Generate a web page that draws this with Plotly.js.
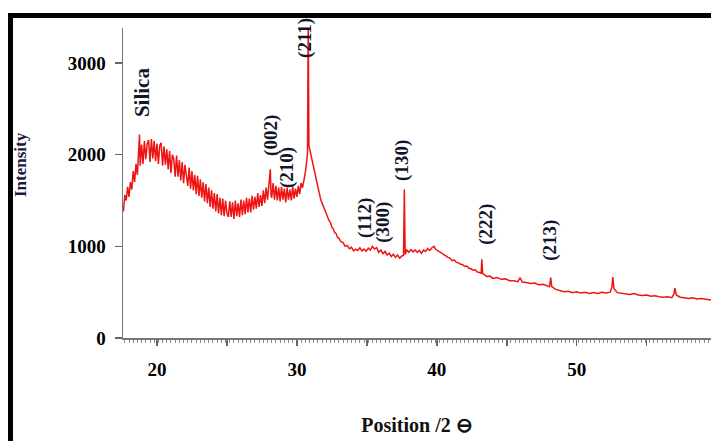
<!DOCTYPE html>
<html>
<head>
<meta charset="utf-8">
<script src="https://cdn.plot.ly/plotly-3.0.1.min.js"></script>
<style>html,body{margin:0;padding:0;background:#fff;}#chart{width:711px;height:441px;}</style>
</head>
<body>
<div id="chart"></div>
<script>
// 2-theta positions (degrees)
var twoTheta = [
 17.6,17.7,17.8,17.9,18.0,18.1,18.2,18.3,18.4,18.5,18.6,18.7,18.75,18.8,18.9,19.0,19.1,19.2,19.3,19.4,
 19.5,19.6,19.7,19.8,19.9,20.0,20.1,20.2,20.3,20.4,20.5,20.6,20.7,20.8,20.9,21.0,21.1,21.2,21.3,21.4,
 21.5,21.6,21.7,21.8,21.9,22.0,22.1,22.2,22.3,22.4,22.5,22.6,22.7,22.8,22.9,23.0,23.1,23.2,23.3,23.4,
 23.5,23.6,23.7,23.8,23.9,24.0,24.1,24.2,24.3,24.4,24.5,24.6,24.7,24.8,24.9,25.0,25.1,25.2,25.3,25.4,
 25.5,25.6,25.7,25.8,25.9,26.0,26.1,26.2,26.3,26.4,26.5,26.6,26.7,26.8,26.9,27.0,27.1,27.2,27.3,27.4,
 27.5,27.6,27.7,27.8,27.9,28.0,28.1,28.15,28.2,28.3,28.4,28.5,28.6,28.7,28.8,28.9,29.0,29.1,29.2,29.3,
 29.4,29.5,29.6,29.7,29.8,29.9,30.0,30.1,30.2,30.3,30.4,30.5,30.6,30.7,30.76,30.81,30.86,30.93,31.0,31.1,
 31.2,31.3,31.4,31.5,31.6,31.7,31.8,31.9,32.0,32.1,32.2,32.3,32.4,32.5,32.6,32.7,32.8,32.9,33.0,33.15,
 33.3,33.45,33.6,33.75,33.9,34.05,34.2,34.35,34.5,34.65,34.8,34.95,35.1,35.25,35.4,35.55,35.7,35.85,36.0,36.15,
 36.3,36.45,36.6,36.75,36.9,37.05,37.2,37.35,37.5,37.62,37.68,37.74,37.85,38.0,38.15,38.3,38.45,38.6,38.75,38.9,
 39.05,39.2,39.35,39.5,39.65,39.8,39.9,40.05,40.2,40.35,40.5,40.65,40.8,40.95,41.1,41.25,41.4,41.55,41.7,41.85,
 42.0,42.15,42.3,42.45,42.6,42.75,42.9,43.05,43.17,43.22,43.28,43.4,43.6,43.8,44.0,44.3,44.6,44.9,45.2,45.5,
 45.8,45.95,46.1,46.4,46.7,47.0,47.3,47.6,47.9,48.06,48.14,48.22,48.5,48.8,49.1,49.4,49.7,50.0,50.3,50.6,
 50.9,51.2,51.5,51.8,52.1,52.4,52.52,52.58,52.66,52.9,53.2,53.5,53.8,54.1,54.4,54.7,55.0,55.3,55.6,55.9,
 56.2,56.5,56.8,56.95,57.02,57.12,57.4,57.7,58.0,58.3,58.6,58.9,59.2,59.6
];
// Intensity (counts)
var intensity = [
 1380,1560,1500,1650,1540,1700,1620,1820,1700,1900,1780,2000,2220,1880,2110,1900,2150,1950,2120,2160,
 1920,2170,1960,2150,1930,2120,1900,2100,2130,1880,2090,1890,2060,1840,2040,1800,2000,1950,1760,1990,
 1760,1940,1720,1920,1690,1890,1740,1660,1860,1630,1820,1610,1780,1570,1770,1550,1730,1530,1700,1490,
 1680,1470,1640,1430,1610,1410,1580,1380,1570,1360,1530,1340,1520,1330,1500,1360,1320,1490,1320,1480,
 1300,1500,1330,1470,1320,1510,1340,1500,1350,1530,1370,1520,1370,1550,1400,1540,1410,1580,1430,1560,
 1440,1610,1470,1640,1510,1660,1840,1560,1530,1690,1510,1660,1500,1640,1490,1650,1510,1630,1480,1640,
 1510,1620,1500,1650,1520,1630,1540,1660,1570,1690,1640,1720,1800,1930,2020,3500,2100,2050,2000,1900,
 1830,1760,1700,1620,1580,1510,1470,1440,1390,1350,1320,1280,1260,1210,1190,1150,1140,1100,1090,1050,
 1040,1000,1010,975,990,950,970,955,985,950,970,945,980,960,1000,970,985,935,960,920,
 945,905,925,890,915,880,905,870,895,900,1620,910,960,935,965,940,960,935,955,925,
 960,945,975,955,985,1000,970,955,935,920,905,895,880,870,845,850,825,820,805,800,
 780,785,760,755,740,745,720,715,705,860,705,690,670,675,650,660,640,645,625,625,
 615,660,610,605,595,600,580,585,565,560,660,560,530,515,505,510,495,505,490,500,
 485,495,485,500,490,500,560,665,540,495,490,480,475,485,470,465,470,455,460,450,
 445,450,440,480,545,470,445,440,430,440,425,430,420,415
];
// Peak labels
var peakText = ["Silica","(002)","(210)","(211)","(112)","(300)","(130)","(222)","(213)"];
var peakX    = [18.93, 28.14, 29.29, 30.57, 34.86, 36.14, 37.5, 43.5, 48.07];
var peakY    = [2683, 2214, 1865, 3272, 1309, 1265, 1941, 1243, 1069];
var xTickVals = [20,25,30,35,40,45,50,55];
var xTickText = ["20","","30","","40","","50",""];
var yTickVals = [0,1000,2000,3000];

var serif = "Liberation Serif, Times New Roman, serif";
var annotations = peakText.map(function(t,i){
  return {x: peakX[i], y: peakY[i], xref:'x', yref:'y', text: '<b>'+t+'</b>', showarrow:false,
    xanchor:'center', yanchor:'middle',
    textangle:-90, font:{family:serif, size: (t==="Silica"?21:19), color:'#15152a'}};
});
annotations.push({text:'<b>Intensity</b>', xref:'paper', yref:'paper', x:(20-123)/588, y:(338-165)/310,
  xanchor:'center', yanchor:'middle',
  showarrow:false, textangle:-90, font:{family:serif, size:17, color:'#1a1a40'}});

var trace = {x: twoTheta, y: intensity, type:'scatter', mode:'lines',
  line:{color:'#ee1414', width:1.5}, cliponaxis:false, hoverinfo:'skip'};

var layout = {
  width:711, height:441,
  margin:{l:123, r:0, t:28, b:103},
  paper_bgcolor:'#fff', plot_bgcolor:'#fff',
  showlegend:false,
  xaxis:{range:[17.57,59.6], tickvals:xTickVals, ticktext:xTickText, ticks:'outside', ticklen:6,
    tickcolor:'#666', tickwidth:1.5, showline:true, linecolor:'#777', linewidth:1.5, showgrid:false,
    zeroline:false, ticklabelstandoff:8,
    minor:{dtick:0.3, ticks:'outside', ticklen:3, tickcolor:'#888', tickwidth:1, showgrid:false},
    tickfont:{family:serif, size:19, color:'#000', weight:'bold'},
    title:{text:'<b>Position /2 ⊖</b>', font:{family:serif, size:20, color:'#111'}, standoff:38}},
  yaxis:{range:[0,3382], tickvals:yTickVals, ticks:'outside', ticklen:7, tickcolor:'#666', tickwidth:1.5,
    showline:true, linecolor:'#777', linewidth:1.5, showgrid:false, zeroline:false, ticklabelstandoff:5,
    tickfont:{family:serif, size:19, color:'#000', weight:'bold'}},
  annotations: annotations,
  shapes:[
    {type:'rect', xref:'paper', yref:'paper', x0:(8-123)/588, x1:1.01, y0:(338-18)/310, y1:(338-13)/310,
     fillcolor:'#000', line:{width:0}, layer:'above'},
    {type:'rect', xref:'paper', yref:'paper', x0:(8-123)/588, x1:(13-123)/588, y0:(338-442)/310, y1:(338-13)/310,
     fillcolor:'#000', line:{width:0}, layer:'above'}
  ]
};
Plotly.newPlot('chart', [trace], layout, {staticPlot:true, displayModeBar:false});
</script>
</body>
</html>
